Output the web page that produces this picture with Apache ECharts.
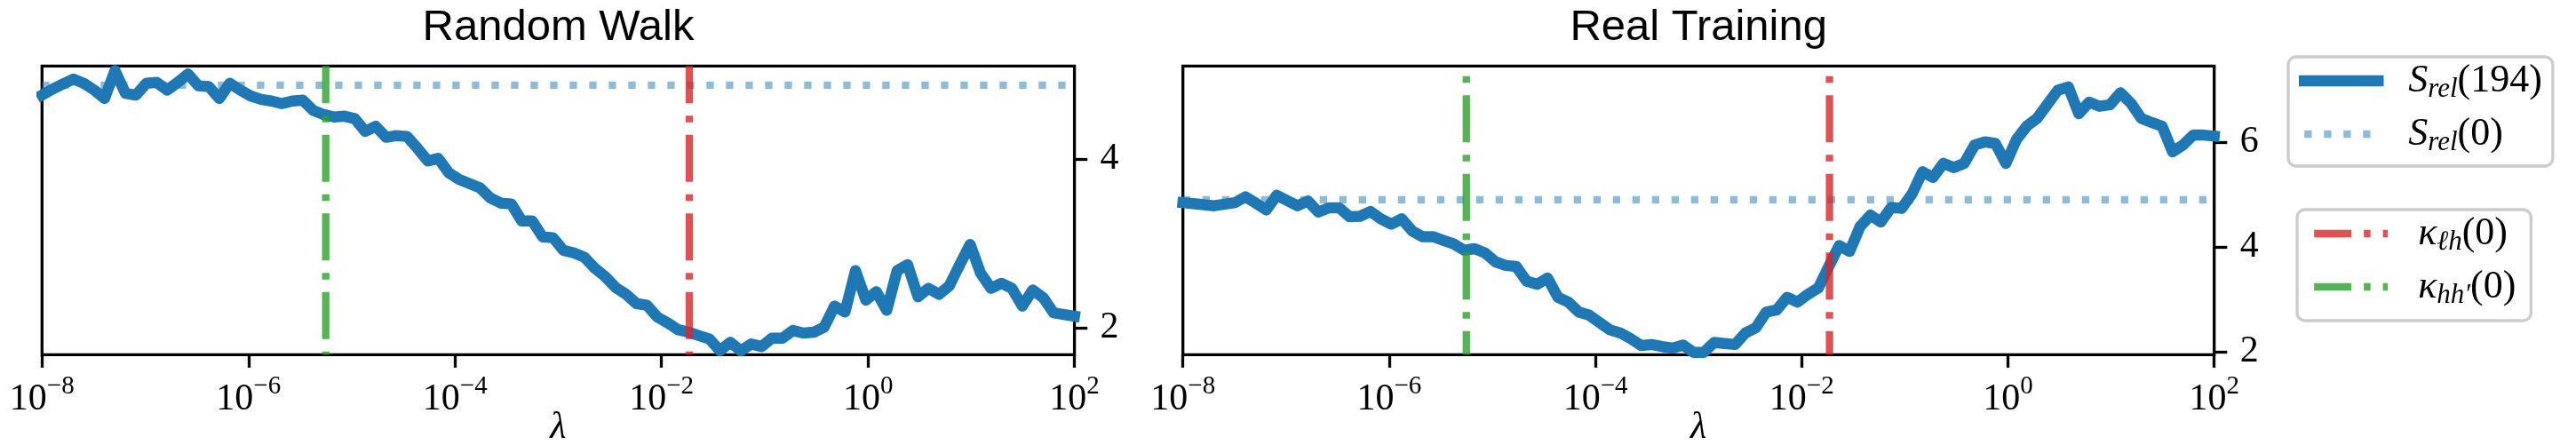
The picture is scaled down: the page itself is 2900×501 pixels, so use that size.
<!DOCTYPE html>
<html>
<head>
<meta charset="utf-8">
<script src="https://cdn.jsdelivr.net/npm/echarts@6/dist/echarts.min.js"></script>
<style>
  html, body { margin: 0; padding: 0; background: #fff; }
  #chart { width: 2900px; height: 501px; }
</style>
</head>
<body>
<div id="chart"></div>
<script>
// lambda sweep: 100 log-spaced points from 1e-8 to 1e2
const lambdaRange = [1e-8, 1e2];
const lambdaCount = 100;
const lambdas = Array.from({ length: lambdaCount }, (_, i) =>
  Math.pow(10, Math.log10(lambdaRange[0]) + i * (Math.log10(lambdaRange[1]) - Math.log10(lambdaRange[0])) / (lambdaCount - 1)));

// S_rel(194), random walk panel
const randomWalk = [
  4.76, 4.83, 4.89, 4.95, 4.90, 4.82, 4.72, 5.05, 4.78, 4.76,
  4.90, 4.91, 4.82, 4.91, 5.01, 4.87, 4.86, 4.72, 4.90, 4.82,
  4.75, 4.71, 4.69, 4.66, 4.69, 4.70, 4.58, 4.53, 4.50, 4.51,
  4.48, 4.33, 4.39, 4.26, 4.28, 4.27, 4.13, 3.98, 4.01, 3.84,
  3.76, 3.71, 3.66, 3.54, 3.48, 3.47, 3.27, 3.27, 3.08, 3.07,
  2.92, 2.89, 2.84, 2.71, 2.61, 2.48, 2.40, 2.29, 2.27, 2.13,
  2.06, 1.98, 1.95, 1.91, 1.87, 1.73, 1.83, 1.73, 1.81, 1.78,
  1.88, 1.88, 1.97, 1.94, 1.95, 2.01, 2.26, 2.19, 2.68, 2.33,
  2.43, 2.21, 2.68, 2.75, 2.37, 2.47, 2.40, 2.50, 2.75, 2.99,
  2.65, 2.47, 2.53, 2.47, 2.26, 2.45, 2.36, 2.18, 2.16, 2.14
];
// S_rel(194), real training panel
const realTraining = [
  4.85, 4.83, 4.81, 4.79, 4.82, 4.85, 4.96, 4.84, 4.71, 4.99,
  4.89, 4.79, 4.88, 4.67, 4.75, 4.75, 4.58, 4.59, 4.68, 4.54,
  4.44, 4.54, 4.31, 4.20, 4.20, 4.13, 4.06, 3.94, 3.97, 3.89,
  3.72, 3.65, 3.63, 3.35, 3.29, 3.41, 3.04, 2.95, 2.76, 2.70,
  2.56, 2.42, 2.36, 2.25, 2.12, 2.14, 2.10, 2.07, 2.13, 1.99,
  1.99, 2.18, 2.16, 2.14, 2.36, 2.46, 2.76, 2.80, 3.04, 2.95,
  3.10, 3.22, 3.63, 4.03, 3.92, 4.39, 4.61, 4.48, 4.76, 4.74,
  5.02, 5.44, 5.33, 5.60, 5.52, 5.60, 5.95, 6.01, 5.98, 5.60,
  6.05, 6.31, 6.46, 6.73, 7.00, 7.06, 6.55, 6.77, 6.69, 6.72,
  6.95, 6.75, 6.46, 6.38, 6.31, 5.82, 5.95, 6.14, 6.14, 6.12
];
// S_rel(0) reference levels
const randomWalkS0 = 4.877;
const realTrainingS0 = 4.906;
// critical lambdas
const kappaLH = 0.0186;
const kappaHH = 5.6e-6;

const panelTitles = ['Random Walk', 'Real Training'];
const yTicks = [[2, 4], [2, 4, 6]];
const yLimits = [[1.684, 5.105], [1.946, 7.46]];

const serif = "'Liberation Serif', 'DejaVu Serif', serif";
const sans = "'Liberation Sans', Arial, sans-serif";
const blue = '#1f77b4';
const blueFaint = 'rgba(31,119,180,0.5)';
const red = 'rgba(214,39,40,0.8)';
const green = 'rgba(44,160,44,0.8)';
const dashDot = [53, 14, 7.5, 14];

const panels = [
  { values: randomWalk, s0: randomWalkS0, left: 47.3, right: 1209.6, dashOffset: 11 },
  { values: realTraining, s0: realTrainingS0, left: 1331.7, right: 2492.7, dashOffset: 55.6 }
];
const gridTop = 74.3, gridBottom = 399.3;

const legendText = {
  'S_rel(194)': '{S|S}{sub|rel}{r|(194)}',
  'S_rel(0)': '{S|S}{sub|rel}{r|(0)}',
  'κ_ℓh(0)': '{S|κ}{sub|ℓh}{r|(0)}',
  "κ_hh'(0)": '{S|κ}{sub|hh′}{r|(0)}'
};
const legendRich = {
  S: { fontFamily: serif, fontStyle: 'italic', fontSize: 44, lineHeight: 50, padding: [0, 0, 0, 29] },
  sub: { fontFamily: serif, fontStyle: 'italic', fontSize: 31, lineHeight: 26, verticalAlign: 'bottom' },
  r: { fontFamily: serif, fontSize: 44, lineHeight: 50 }
};

const expLabel = v => {
  const e = Math.round(Math.log10(v));
  return '{b|10}{s|' + (e < 0 ? '\u2212' + (-e) : e) + '}';
};

const series = [];
panels.forEach((p, i) => {
  series.push({
    name: 'S_rel(194)', type: 'line', xAxisIndex: i, yAxisIndex: i, symbol: 'none',
    data: lambdas.map((x, k) => [x, p.values[k]]),
    lineStyle: { color: blue, width: 12.5, cap: 'square', join: 'round' },
    itemStyle: { color: blue }, z: 2
  });
});
panels.forEach((p, i) => {
  series.push({
    name: 'S_rel(0)', type: 'line', xAxisIndex: i, yAxisIndex: i, symbol: 'none',
    data: [[lambdaRange[0], p.s0], [lambdaRange[1], p.s0]],
    lineStyle: { color: blueFaint, width: 8.3, type: [8.3, 13.7] },
    itemStyle: { color: blueFaint }, z: 3
  });
});
panels.forEach((p, i) => {
  [['κ_ℓh(0)', kappaLH, red], ["κ_hh'(0)", kappaHH, green]].forEach(([name, k, c]) => {
    series.push({
      name, type: 'line', xAxisIndex: i, yAxisIndex: i, symbol: 'none',
      data: [[k, yLimits[i][1]], [k, yLimits[i][0]]],
      lineStyle: { color: c, width: 8.3, type: dashDot, dashOffset: p.dashOffset },
      itemStyle: { color: c }, z: 4
    });
  });
});

const legendBase = {
  orient: 'vertical', itemWidth: 83, itemHeight: 14, itemGap: 13,
  borderColor: '#cccccc', borderWidth: 3.3, borderRadius: 9, backgroundColor: 'rgba(255,255,255,0.8)',
  selectedMode: false, itemStyle: { opacity: 0 },
  lineStyle: { width: 'inherit', type: 'inherit', cap: 'inherit' },
  formatter: n => legendText[n], textStyle: { rich: legendRich }
};

const chart = echarts.init(document.getElementById('chart'));
chart.setOption({
  animation: false,
  backgroundColor: '#fff',
  textStyle: { fontFamily: serif, color: '#000' },
  graphic: panels.map((p, i) => ({
    type: 'text', x: (p.left + p.right) / 2, y: 31.5,
    style: { text: panelTitles[i], fontFamily: sans, fontSize: 49, fill: '#000',
             align: 'center', verticalAlign: 'middle' }
  })),
  grid: panels.map(p => ({
    left: p.left, width: p.right - p.left, top: gridTop, height: gridBottom - gridTop,
    show: true, borderColor: '#000', borderWidth: 3.3, backgroundColor: 'transparent',
    containLabel: false, outerBoundsMode: 'none'
  })),
  xAxis: panels.map((p, i) => ({
    type: 'log', logBase: 10, gridIndex: i, min: lambdaRange[0], max: lambdaRange[1], interval: 2,
    axisLine: { show: false }, splitLine: { show: false },
    axisTick: { show: true, length: 14.6, lineStyle: { color: '#000', width: 3.3 } },
    axisLabel: {
      margin: 22, formatter: expLabel, color: '#000', showMinLabel: true, showMaxLabel: true, hideOverlap: false,
      rich: {
        b: { fontFamily: serif, fontSize: 42, lineHeight: 50, verticalAlign: 'bottom', color: '#000' },
        s: { fontFamily: serif, fontSize: 29, lineHeight: 24, verticalAlign: 'top', color: '#000' }
      }
    },
    name: 'λ', nameLocation: 'middle', nameGap: 62, nameMoveOverlap: false,
    nameTextStyle: { fontFamily: serif, fontStyle: 'italic', fontSize: 42, color: '#000' }
  })),
  yAxis: panels.map((p, i) => ({
    type: 'value', gridIndex: i, position: 'right', min: yLimits[i][0], max: yLimits[i][1],
    axisLine: { show: false }, splitLine: { show: false },
    axisTick: { show: true, length: 14.6, customValues: yTicks[i], lineStyle: { color: '#000', width: 3.3 } },
    axisLabel: { customValues: yTicks[i], margin: 29, fontFamily: serif, fontSize: 42, color: '#000' }
  })),
  legend: [
    Object.assign({}, legendBase, {
      data: ['S_rel(194)', 'S_rel(0)'], left: 2576, top: 64, padding: [5, 12, 11, 12]
    }),
    Object.assign({}, legendBase, {
      data: ['κ_ℓh(0)', "κ_hh'(0)"], left: 2586, top: 236, padding: [5, 17, 13, 15]
    })
  ],
  series
});
</script>
</body>
</html>
